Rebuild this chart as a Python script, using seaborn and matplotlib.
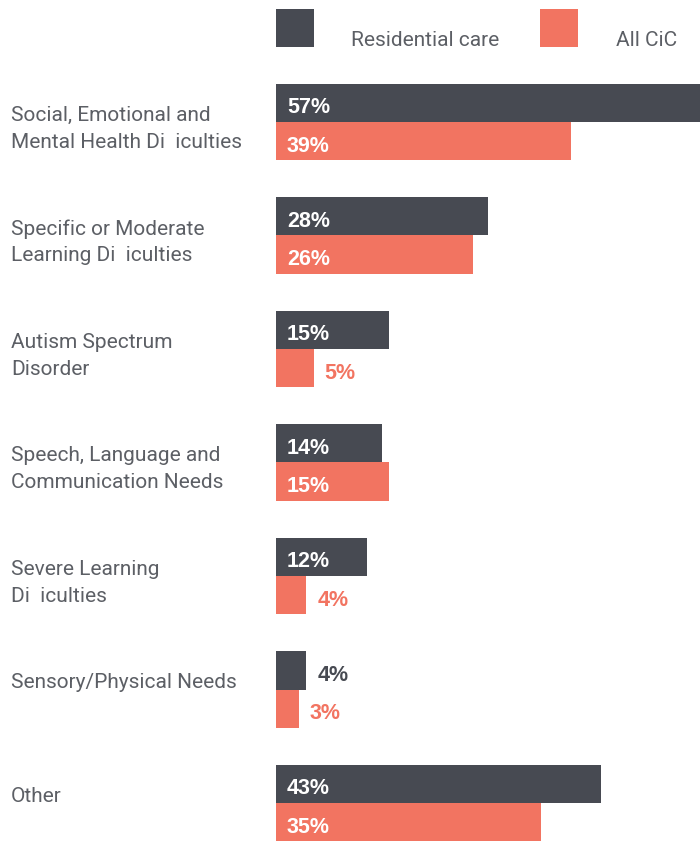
import matplotlib
matplotlib.use("Agg")
import matplotlib.pyplot as plt
import matplotlib.transforms as mtransforms
from matplotlib.patches import Rectangle
import seaborn as sns
import pandas as pd

# Special educational need categories and share of children with each need
categories = [
    "Social, Emotional and\nMental Health Di  iculties",
    "Specific or Moderate\nLearning Di  iculties",
    "Autism Spectrum\nDisorder",
    "Speech, Language and\nCommunication Needs",
    "Severe Learning\nDi  iculties",
    "Sensory/Physical Needs",
    "Other",
]
residential_care = [57, 28, 15, 14, 12, 4, 43]
all_cic = [39, 26, 5, 15, 4, 3, 35]
series_names = ["Residential care", "All CiC"]

DARK = "#474a52"
CORAL = "#f27461"
TEXT = "#5c5f65"

df = pd.DataFrame({
    "category": categories * 2,
    "value": residential_care + all_cic,
    "series": [series_names[0]] * len(categories) + [series_names[1]] * len(categories),
})

sns.set_theme(style="white")
plt.rcParams["font.family"] = ["Roboto", "DejaVu Sans"]

W, H = 700, 841
fig = plt.figure(figsize=(W / 100, H / 100), dpi=100)

# axes placed in pixel terms: bars start at x=276, 7.56 px per percent
x0 = 276
px_per = 7.56
xmax = 57
top_px = 65.25
ax = fig.add_axes([x0 / W, 0, xmax * px_per / W, (H - top_px) / H])

sns.barplot(
    data=df, x="value", y="category", hue="series", order=categories,
    hue_order=series_names, palette=[DARK, CORAL], orient="h",
    width=0.67, ax=ax, legend=False, saturation=1, linewidth=0,
)
ax.set_xlim(0, xmax)
ax.set_ylim((H - 122) / 113.5, -0.5)
ax.axis("off")

num_font = ["Liberation Sans", "DejaVu Sans"]

# value labels: inside in white, or outside in the bar's colour for short bars
for container, color in zip(ax.containers, [DARK, CORAL]):
    for bar, val in zip(container, container.datavalues):
        yc = bar.get_y() + bar.get_height() / 2
        tr = ax.transData + mtransforms.ScaledTranslation(11 / 100, -5 / 100, fig.dpi_scale_trans)
        if val > 6:
            xpos, tcolor = 0, "white"
        else:
            xpos, tcolor = val, color
        ax.text(xpos, yc, f"{val:.0f}%", color=tcolor, fontsize=15.5, fontweight="bold",
                family=num_font, va="center", ha="left", transform=tr, clip_on=False)

# category labels, left aligned, one text per line
lab_tr = mtransforms.blended_transform_factory(fig.transFigure, ax.transData)
for i, cat in enumerate(categories):
    for j, line in enumerate(cat.split("\n")):
        off = mtransforms.ScaledTranslation(0, -(-6.5 + 27 * j) / 100, fig.dpi_scale_trans)
        ax.text(11 / W, i, line, transform=lab_tr + off, fontsize=15, color=TEXT,
                va="center", ha="left", clip_on=False)

# legend: swatches with labels set to their right
for sx, tx, color, name in [(276, 351, DARK, series_names[0]), (540, 616, CORAL, series_names[1])]:
    fig.patches.append(Rectangle((sx / W, 1 - 47 / H), 38 / W, 38 / H,
                                 transform=fig.transFigure, color=color, lw=0))
    fig.text(tx / W, 1 - 41 / H, name, fontsize=15, color=TEXT, va="center", ha="left")

fig.savefig("out.png", dpi=100)
